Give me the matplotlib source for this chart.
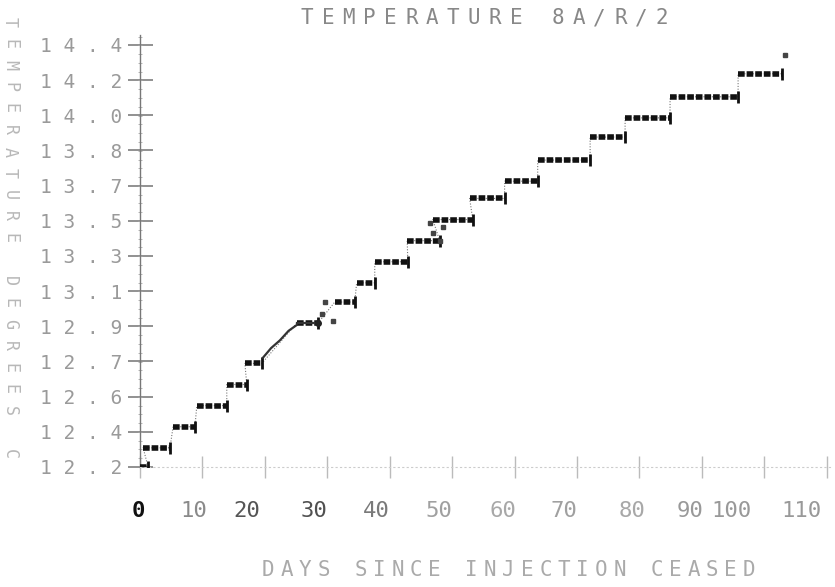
import numpy as np
import matplotlib.pyplot as plt

# step levels (days since injection ceased, temperature)
step_x0 = [0.0, 0.5, 5.3, 9.1, 13.9, 16.8, 25.1, 31.2, 34.7, 37.6, 42.8, 46.9, 52.8, 58.4, 63.7, 72.1, 77.7, 84.9, 95.8]
step_x1 = [1.3, 4.8, 8.8, 13.9, 17.1, 19.5, 28.5, 34.4, 37.6, 42.9, 48.0, 53.3, 58.4, 63.7, 72.1, 77.7, 84.9, 95.8, 102.8]
step_y = [12.20, 12.30, 12.41, 12.52, 12.63, 12.74, 12.95, 13.06, 13.16, 13.27, 13.38, 13.49,
          13.60, 13.69, 13.80, 13.92, 14.02, 14.13, 14.25]

# short rising run between 20 and 25 days
ramp_x = [19.7, 21.0, 22.4, 23.8, 25.1]
ramp_y = [12.77, 12.82, 12.86, 12.91, 12.94]

# loose single readings
loose_x = [29.1, 29.6, 30.9, 46.4, 47.0, 48.0, 48.5, 103.3]
loose_y = [13.00, 13.06, 12.96, 13.47, 13.42, 13.38, 13.45, 14.35]

yticks = [12.2, 12.383, 12.567, 12.75, 12.933, 13.117, 13.3, 13.483, 13.667, 13.85, 14.033, 14.217, 14.4]
ylabels = ['12.2', '12.4', '12.6', '12.7', '12.9', '13.1', '13.3', '13.5', '13.7', '13.8', '14.0', '14.2', '14.4']
xticks = [0, 10, 20, 30, 40, 50, 60, 70, 80, 90, 100, 110]
xcolors = ['#111111', '#8a8a8a', '#555555', '#505050', '#7a7a7a', '#a0a0a0', '#a8a8a8',
           '#a0a0a0', '#a8a8a8', '#999999', '#999999', '#999999']
# printer set the day labels a little left of their ticks (pixels)
xshift = [-2, -9, -18, -13, -13, -13, -12, -13, -7, -12, -33, -25]

mono = 'DejaVu Sans Mono'
grey = '#9a9a9a'

fig = plt.figure(figsize=(8.35, 5.87), dpi=100)
ax = fig.add_axes([140 / 835, 1 - 467 / 587, 693 / 835, (467 - 35.4) / 587])
ax.set_xlim(0, 111)
ax.set_ylim(12.2, 14.45)

# connecting path (faint) then the dense step blobs
px, py = [], []
for a, b, y in zip(step_x0, step_x1, step_y):
    px += [a, b]
    py += [y, y]
ax.plot(px, py, color='#777777', lw=0.8, ls=(0, (1, 1.5)), zorder=2)
ax.hlines(step_y, step_x0, step_x1, color='#111111', lw=4, linestyles=(0, (1.2, 0.35)), zorder=3)
ax.plot(step_x1, step_y, ls='none', marker='|', ms=9, mew=2, color='#111111', zorder=3)
ax.plot(ramp_x, ramp_y, color='#333333', lw=1.6, zorder=3)
ax.plot([25.1, 28.5], [12.95, 12.95], color='#333333', lw=1.6, zorder=3)
ax.plot([28.5], [12.95], 'o', ms=4, color='#222222', zorder=3)
ax.plot(loose_x, loose_y, ls='none', marker='s', ms=2.5, color='#444444', zorder=3)

# axes look like an old dot-matrix plotter
for s in ['top', 'right']:
    ax.spines[s].set_visible(False)
ax.spines['left'].set_color('#777777')
ax.spines['left'].set_linestyle((0, (2, 1)))
ax.spines['left'].set_linewidth(1.0)
ax.spines['bottom'].set_color('#cccccc')
ax.spines['bottom'].set_linestyle((0, (1, 3)))

ax.set_yticks(yticks)
ax.set_yticklabels([' '.join(l) for l in ylabels], family=mono, fontsize=14, color=grey)
ax.tick_params(axis='y', direction='inout', length=18, width=1.3, color='#888888', pad=4)
ax.set_yticks(np.arange(12.2, 14.45, 0.0458), minor=True)
ax.tick_params(axis='y', which='minor', direction='inout', length=3, color='#aaaaaa')

ax.set_xticks(xticks)
ax.set_xticklabels([])
ax.tick_params(axis='x', direction='inout', length=16, width=1.0, color='#bbbbbb')
for v, c, dx in zip(xticks, xcolors, xshift):
    ax.annotate(str(v), xy=(v, 0), xycoords=('data', 'axes fraction'),
                xytext=(dx * 0.72, -32), textcoords='offset points',
                ha='center', va='center', family=mono, fontsize=16, color=c,
                fontweight='bold' if v == 0 else 'normal')


def spaced(x0, y, text, dx, **kw):
    # one glyph at a time, printer style letter spacing
    for i, ch in enumerate(text):
        fig.text((x0 + i * dx) / 835, 1 - y / 587, ch, ha='center', va='center',
                 family=mono, **kw)


spaced(307, 18, 'TEMPERATURE 8A/R/2', 20.9, fontsize=15, color='#888888')
spaced(268, 570, 'DAYS SINCE INJECTION CEASED', 18.5, fontsize=15, color='#aaaaaa')

ylab = 'TEMPERATURE DEGREES C'
for i, ch in enumerate(ylab):
    fig.text(10 / 835, 1 - (22 + i * 21.6) / 587, ch, ha='center', va='center',
             family=mono, fontsize=12, color='#b8b8b8', rotation=270)

fig.savefig('out.png', dpi=100)
